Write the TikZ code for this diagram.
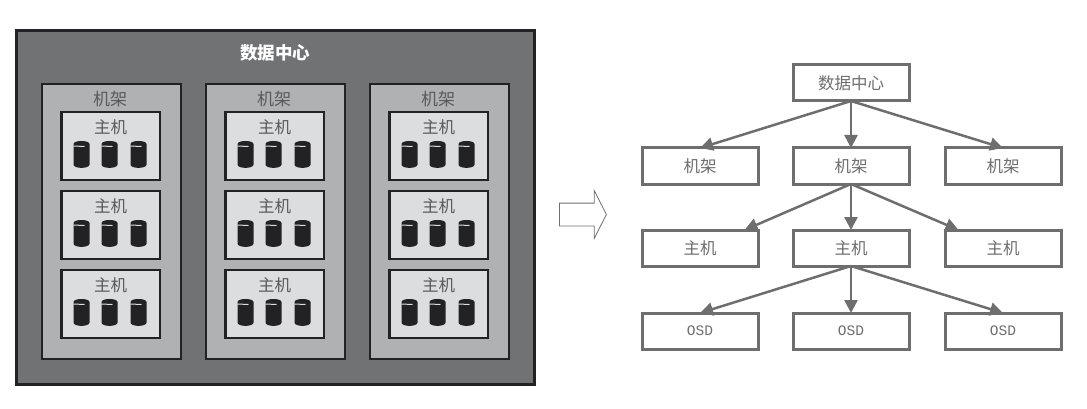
\documentclass[tikz,border=0pt]{standalone}
\usepackage{fontspec}
\setmainfont{Noto Sans CJK SC}
\setmonofont{Liberation Mono}
\usetikzlibrary{arrows.meta,positioning,shapes.arrows}
\definecolor{dark}{HTML}{222224}
\definecolor{hall}{HTML}{707274}
\definecolor{rackgrey}{HTML}{B0B1B3}
\definecolor{hostgrey}{HTML}{DCDDDE}
\definecolor{inktext}{HTML}{5A5A5C}
\definecolor{treegrey}{HTML}{6E6E6E}
\tikzset{
  hallbox/.style={draw=dark, fill=hall, line width=3pt, outer sep=0pt, minimum width=518pt, minimum height=353pt,
              label={[anchor=north, yshift=-13pt, inner sep=0pt, text=white, font=\fontsize{17.5}{18}\selectfont\bfseries]north:数据中心}},
  rackbox/.style={draw=dark, fill=rackgrey, line width=2.5pt, outer sep=0pt, minimum width=139pt, minimum height=275pt,
              label={[anchor=north, xshift=-1.5pt, yshift=-7pt, inner sep=0pt, text=inktext, font=\fontsize{17}{18}\selectfont]north:机架}},
  hostbox/.style={draw=dark, fill=hostgrey, line width=2.5pt, outer sep=0pt, minimum width=98.5pt, minimum height=68pt,
              label={[anchor=north, yshift=-7pt, inner sep=0pt, text=inktext, font=\fontsize{16.5}{18}\selectfont]north:主机}},
  treebox/.style={draw=treegrey, fill=white, line width=3pt, outer sep=0pt, minimum width=116pt, minimum height=36pt,
              inner sep=0pt, text=treegrey, font=\fontsize{16.5}{18}\selectfont},
  osdbox/.style={treebox, font=\fontsize{14.5}{18}\ttfamily},
  flow/.style={-{Triangle[length=13pt,width=13pt]}, line width=2.5pt, treegrey},
  disk/.pic={
    \fill[dark] (-8,-10.5) .. controls (-8,-14.5) and (8,-14.5) .. (8,-10.5) -- (8,10)
      .. controls (8,14.5) and (-8,14.5) .. (-8,10) -- cycle;
    \draw[hostgrey, line width=1pt] (-8,-8.5) -- (3,-8);
  },
  disks/.pic={
    \pic at (-29,8.5) {disk};
    \pic at (-1,8.5) {disk};
    \pic at (28,8.5) {disk};
  },
}
\begin{document}
\begin{tikzpicture}[x=1pt, y=-1pt, node distance=11pt and 25pt]
  \useasboundingbox (0,0) rectangle (1087,409);
  \node[hallbox] (hall) at (275,207.5) {};
  \node[rackbox] (rka) at (111.5,221.5) {};
  \node[rackbox, right=of rka] (rkb) {};
  \node[rackbox, right=of rkb] (rkc) {};
  \node[hostbox, below=28pt of rka.north, xshift=-1pt] (hsa) {};
  \node[hostbox, below=of hsa] (hsb) {};
  \node[hostbox, below=of hsb] (hsc) {};
  \node[hostbox, below=28pt of rkb.north, xshift=-1pt] (hsd) {};
  \node[hostbox, below=of hsd] (hse) {};
  \node[hostbox, below=of hse] (hsf) {};
  \node[hostbox, below=28pt of rkc.north, xshift=-1pt] (hsg) {};
  \node[hostbox, below=of hsg] (hsh) {};
  \node[hostbox, below=of hsh] (hsi) {};
  \pic at (hsa.center) {disks};
  \pic at (hsb.center) {disks};
  \pic at (hsc.center) {disks};
  \pic at (hsd.center) {disks};
  \pic at (hse.center) {disks};
  \pic at (hsf.center) {disks};
  \pic at (hsg.center) {disks};
  \pic at (hsh.center) {disks};
  \pic at (hsi.center) {disks};
  \node[single arrow, draw=treegrey, line width=.8pt, inner xsep=0pt, inner ysep=11pt, outer sep=0pt, minimum height=47pt,
    single arrow head extend=12.5pt, single arrow tip angle=126] (turn) at (580,214.5) {};
  \node[treebox] (dc) at (851,83) {数据中心};
  \node[treebox, below=47pt of dc] (rb) {机架};
  \node[treebox, left=35pt of rb] (ra) {机架};
  \node[treebox, right=36pt of rb] (rc) {机架};
  \node[treebox, below=46pt of rb] (hb) {主机};
  \node[treebox, left=35pt of hb] (ha) {主机};
  \node[treebox, right=36pt of hb] (hc) {主机};
  \node[osdbox, below=47pt of hb] (ob) {OSD};
  \node[osdbox, left=35pt of ob] (oa) {OSD};
  \node[osdbox, right=36pt of ob] (oc) {OSD};
  \draw[flow] (dc.south) -- (ra.north);
  \draw[flow] (dc.south) -- (rb.north);
  \draw[flow] (dc.south) -- (rc.north);
  \draw[flow] (rb.south) -- (ha.22);
  \draw[flow] (rb.south) -- (hb.north);
  \draw[flow] (rb.south) -- (hc.158);
  \draw[flow] (hb.south) -- (oa.north);
  \draw[flow] (hb.south) -- (ob.north);
  \draw[flow] (hb.south) -- (oc.north);
\end{tikzpicture}
\end{document}
